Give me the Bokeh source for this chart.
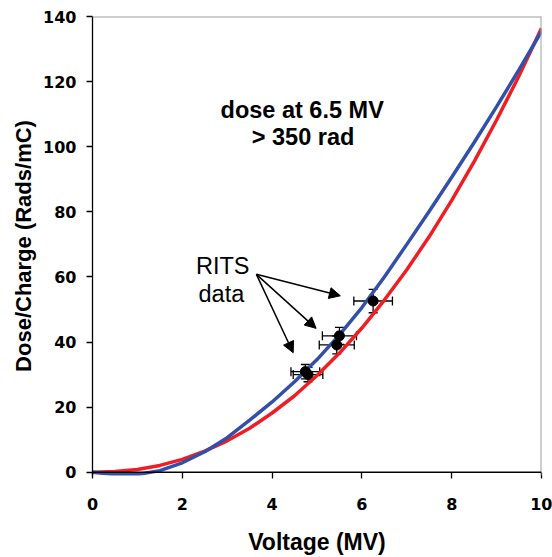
from bokeh.plotting import figure
from bokeh.models import Range1d, Whisker, TeeHead, Arrow, NormalHead, ColumnDataSource, Label, Span
from bokeh.embed import file_html
from bokeh.resources import INLINE

# ---- data ----
voltage = [0.0, 0.5, 1.0, 1.5, 2.0, 2.5, 3.0, 3.5, 4.0, 4.5, 5.0,
           5.5, 6.0, 6.5, 7.0, 7.5, 8.0, 8.5, 9.0, 9.5, 10.0]
red_curve = [0.0, 0.2, 0.86, 2.1, 3.95, 6.5, 9.65, 13.5, 18.2, 23.5, 29.7,
             36.6, 44.3, 52.9, 62.2, 72.4, 83.5, 95.4, 108.2, 121.8, 136.4]
blue_curve = [0.0, -0.7, -0.7, 0.5, 2.9, 6.3, 10.6, 16.0, 21.6, 27.8, 34.6,
              42.2, 50.6, 60.0, 70.0, 80.2, 90.6, 101.3, 112.3, 123.7, 135.4]

rits_v = [6.25, 5.50, 5.44, 4.74, 4.80]
rits_dose = [52.6, 41.9, 39.1, 30.9, 30.0]
rits_verr = [0.43, 0.38, 0.39, 0.32, 0.33]
rits_derr = [3.6, 2.6, 2.75, 2.2, 2.2]

x_ticks = [0, 2, 4, 6, 8, 10]
y_ticks = [0, 20, 40, 60, 80, 100, 120, 140]

FONT = "Liberation Sans"
TICK_FONT = "DejaVu Sans"

p = figure(width=552, height=557, x_range=Range1d(0, 10), y_range=Range1d(-1.0, 140),
           output_backend="svg", toolbar_location=None, title=None,
           min_border_left=92, min_border_right=11, min_border_top=16, min_border_bottom=80)

p.xgrid.visible = False
p.ygrid.visible = False
p.outline_line_color = None
p.background_fill_color = "white"
p.border_fill_color = "white"

for ax in (p.xaxis[0], p.yaxis[0]):
    ax.axis_line_color = "black"
    ax.axis_line_width = 1.3
    ax.major_tick_line_color = "black"
    ax.major_tick_line_width = 1.3
    ax.major_tick_out = 6
    ax.major_tick_in = 0
    ax.minor_tick_line_color = None
    ax.major_label_text_font = TICK_FONT
    ax.major_label_text_font_style = "bold"
    ax.major_label_text_font_size = "16px"
    ax.major_label_text_color = "black"
    ax.axis_label_text_font = FONT
    ax.axis_label_text_font_style = "bold"
    ax.axis_label_text_color = "black"

p.xaxis.axis_label_text_font_size = "23px"
p.yaxis.axis_label_text_font_size = "22px"
p.xaxis.axis_line_color = None
p.xaxis.major_tick_in = 3
p.xaxis.major_tick_out = 3
p.xaxis.ticker = x_ticks
p.yaxis.ticker = y_ticks
p.xaxis.axis_label = "Voltage (MV)"
p.yaxis.axis_label = "Dose/Charge (Rads/mC)"
p.xaxis.major_label_standoff = 19
p.yaxis.major_label_standoff = 10
p.xaxis.axis_label_standoff = 16
p.yaxis.axis_label_standoff = 4

# plot-area border (grey top/right)
p.add_layout(Span(location=140, dimension="width", line_color="#A0A0A0", line_width=2))
p.add_layout(Span(location=10, dimension="height", line_color="#A0A0A0", line_width=2))

# curves
p.line(voltage, red_curve, line_color="#F01E23", line_width=3.5)
p.line(voltage, blue_curve, line_color="#3250AA", line_width=3.5)

# x axis line at zero
p.add_layout(Span(location=0, dimension="width", line_color="black", line_width=1.3))

# data with error bars
src = ColumnDataSource(dict(
    v=rits_v, d=rits_dose,
    vlo=[a - b for a, b in zip(rits_v, rits_verr)],
    vhi=[a + b for a, b in zip(rits_v, rits_verr)],
    dlo=[a - b for a, b in zip(rits_dose, rits_derr)],
    dhi=[a + b for a, b in zip(rits_dose, rits_derr)],
))
p.add_layout(Whisker(source=src, base="v", lower="dlo", upper="dhi", dimension="height",
                     line_color="black", line_width=1.3,
                     upper_head=TeeHead(size=9, line_color="black", line_width=1.3),
                     lower_head=TeeHead(size=9, line_color="black", line_width=1.3)))
p.add_layout(Whisker(source=src, base="d", lower="vlo", upper="vhi", dimension="width",
                     line_color="black", line_width=1.3,
                     upper_head=TeeHead(size=9, line_color="black", line_width=1.3),
                     lower_head=TeeHead(size=9, line_color="black", line_width=1.3)))
p.scatter("v", "d", source=src, size=10, fill_color="black", line_color="black")

# arrows
arrow_start = (3.65, 60.8)
arrow_ends = [(5.52, 54.2), (4.98, 44.2), (4.47, 36.7)]
for (xe, ye) in arrow_ends:
    p.add_layout(Arrow(x_start=arrow_start[0], y_start=arrow_start[1], x_end=xe, y_end=ye,
                       line_color="black", line_width=1.5,
                       end=NormalHead(size=11, fill_color="black", line_color="black")))

# annotations
p.add_layout(Label(x=2.9, y=63.4, text="RITS", text_align="center", text_baseline="alphabetic",
                   text_font=FONT, text_font_size="23.5px", text_color="black"))
p.add_layout(Label(x=2.87, y=54.7, text="data", text_align="center", text_baseline="alphabetic",
                   text_font=FONT, text_font_size="23.5px", text_color="black"))
p.add_layout(Label(x=4.67, y=111.3, text="dose at 6.5 MV", text_align="center", text_baseline="alphabetic",
                   text_font=FONT, text_font_style="bold", text_font_size="23.5px", text_color="black"))
p.add_layout(Label(x=4.69, y=103.0, text="> 350 rad", text_align="center", text_baseline="alphabetic",
                   text_font=FONT, text_font_style="bold", text_font_size="23.5px", text_color="black"))

open("out.html", "w").write(file_html(p, INLINE))
